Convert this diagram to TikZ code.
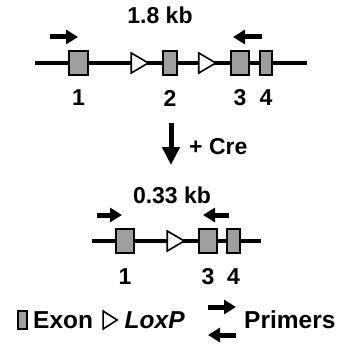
\documentclass[tikz,border=0pt]{standalone}
\usepackage{fontspec}
\setmainfont{Liberation Sans}
\usetikzlibrary{shapes,arrows,arrows.meta,positioning,calc}
\tikzset{
	exon/.style={draw,line width=2pt,fill=gray!75,inner sep=0pt,minimum height=24pt,minimum width=#1},
	exon/.default=18pt,
	loxp/.style={draw,line width=1.6pt,fill=white,isosceles triangle,isosceles triangle stretches,inner sep=0pt,minimum width=20pt,minimum height=17pt},
	primer/.style={line width=5pt,-{Triangle[length=12pt,width=14pt]}},
	lbl/.style={font=\fontsize{23}{27}\selectfont\bfseries,inner sep=0pt},
	leg/.style={font=\fontsize{24.5}{29}\selectfont\bfseries,inner sep=0pt,anchor=west}
}
\begin{document}
\begin{tikzpicture}[x=1pt,y=-1pt]
	\useasboundingbox (0,0) rectangle (345,345);
	\coordinate (ga) at (35,63);
	\coordinate (gb) at (307,63);
	\draw[line width=3.5pt] (ga) -- (gb);
	\node[exon=19pt] (ex1) at (78.5,63) {};
	\node[exon=14pt] (ex2) at (170,63) {};
	\node[exon=18pt] (ex3) at (240,63) {};
	\node[exon=12pt] (ex4) at (266,63) {};
	\node[loxp] (lox1) at (137,63) {};
	\node[loxp] (lox2) at (204.5,63) {};
	\node[lbl] (len1) at (160,15) {1.8 kb};
	\coordinate (fwa) at (50,37);
	\coordinate (fwb) at (78,37);
	\coordinate (rva) at (262,37);
	\coordinate (rvb) at (233,37);
	\draw[primer] (fwa) -- (fwb);
	\draw[primer] (rva) -- (rvb);
	\node[lbl] (n1) at (78.5,98) {1};
	\node[lbl] (n2) at (170,98) {2};
	\node[lbl] (n3) at (240,98) {3};
	\node[lbl] (n4) at (266,98) {4};
	\coordinate (crea) at (171,123);
	\coordinate (creb) at (171,165);
	\draw[line width=5pt,-{Triangle[length=18pt,width=17pt]}] (crea) -- (creb);
	\node[lbl,anchor=west] (cre) at (189,147) {+ Cre};
	\coordinate (ka) at (92,241);
	\coordinate (kb) at (261,241);
	\draw[line width=3.5pt] (ka) -- (kb);
	\node[exon=18pt] (kex1) at (125,241) {};
	\node[exon=18pt] (kex3) at (208,241) {};
	\node[exon=13pt] (kex4) at (233.5,241) {};
	\node[loxp] (klox) at (173,241) {};
	\node[lbl] (len2) at (172,195) {0.33 kb};
	\coordinate (kfwa) at (97,215);
	\coordinate (kfwb) at (122,215);
	\coordinate (krva) at (229,215);
	\coordinate (krvb) at (203,215);
	\draw[primer] (kfwa) -- (kfwb);
	\draw[primer] (krva) -- (krvb);
	\node[lbl] (k1) at (125,277) {1};
	\node[lbl] (k3) at (208,277) {3};
	\node[lbl] (k4) at (233.5,277) {4};
	\node[exon=9pt,minimum height=18pt] (legex) at (22.5,320) {};
	\node[leg] (legexon) at (33,320) {Exon};
	\node[loxp,minimum width=18pt,minimum height=14pt] (leglox) at (108,320) {};
	\node[leg] (legloxp) at (124.5,320) {\itshape LoxP};
	\coordinate (lpa) at (208,307);
	\coordinate (lpb) at (236,307);
	\coordinate (lpc) at (236,335);
	\coordinate (lpd) at (208,335);
	\draw[primer] (lpa) -- (lpb);
	\draw[primer] (lpc) -- (lpd);
	\node[leg] (legprim) at (244,320) {Primers};
\end{tikzpicture}
\end{document}
